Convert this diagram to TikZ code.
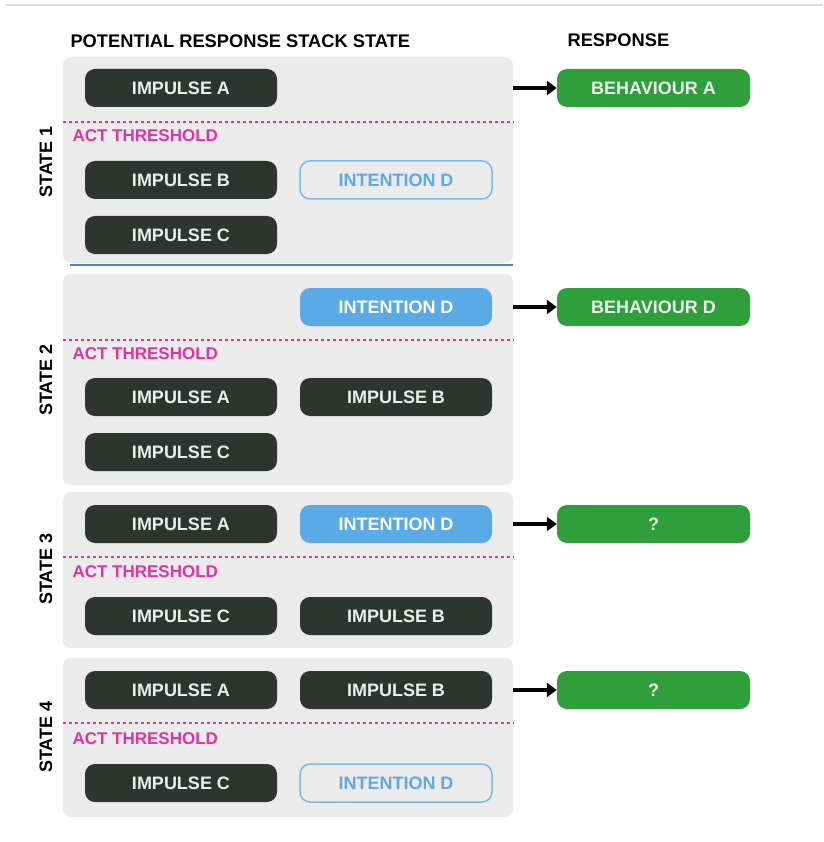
\documentclass[tikz,border=0pt]{standalone}
\usepackage{fontspec}
\setmainfont{Liberation Sans}
\usepackage{tikz}
\usetikzlibrary{positioning,arrows.meta}
\usepackage{xcolor}

\definecolor{panelgray}{HTML}{EBEBEB}
\definecolor{pilldark}{HTML}{2E3531}
\definecolor{pilltext}{HTML}{EDEDED}
\definecolor{respgreen}{HTML}{2E9F3A}
\definecolor{intentblue}{HTML}{5AAAE6}
\definecolor{outlineblue}{HTML}{7DB9E8}
\definecolor{outlinetext}{HTML}{5FA9E0}
\definecolor{threshpink}{HTML}{E0359C}
\definecolor{toprule}{HTML}{DDDDDD}
\definecolor{splitblue}{HTML}{4A84C6}

\newcommand{\pillfont}{\fontsize{18}{21}\selectfont\bfseries}
\newcommand{\headfont}{\fontsize{18.3}{21}\selectfont\bfseries}
\newcommand{\threshfont}{\fontsize{17}{20}\selectfont\bfseries}

\begin{document}
\begin{tikzpicture}[x=1pt, y=-1pt, >=Stealth,
    panel/.style={rectangle, rounded corners=8pt, fill=panelgray, minimum width=450pt},
    impulse/.style={rectangle, rounded corners=10pt, fill=pilldark, text=pilltext,
        minimum width=192pt, minimum height=38pt, font=\pillfont},
    intent/.style={impulse, fill=intentblue, text=white},
    latent/.style={impulse, fill=panelgray, draw=outlineblue, line width=1.5pt, text=outlinetext},
    behaviour/.style={impulse, fill=respgreen, minimum width=193pt},
    threshold/.style={threshpink, line width=2pt, dash pattern=on 3pt off 3pt},
    threshlabel/.style={anchor=west, text=threshpink, font=\threshfont},
    statelabel/.style={rotate=90, font=\pillfont},
    respond/.style={-{Triangle[length=10pt,width=14pt]}, line width=4pt, black},
]
    \useasboundingbox (0,0) rectangle (823,842);

    % Top rule and headings
    \draw[toprule, line width=2pt] (5,5) -- (823,5);
    \node[anchor=west, font=\headfont] (hstack) at (67,41) {POTENTIAL RESPONSE STACK STATE};
    \node[anchor=west, font=\headfont] (hresp) at (564,40) {RESPONSE};

    % Panels
    \node[panel, minimum height=206pt] (state1) at (288,160) {};
    \node[panel, minimum height=211pt] (state2) at (288,379.5) {};
    \node[panel, minimum height=156pt] (state3) at (288,570) {};
    \node[panel, minimum height=159pt] (state4) at (288,737.5) {};
    \draw[splitblue, line width=1.5pt] (70,265) -- (513,265);

    % State labels
    \node[statelabel] (lab1) at (46,162) {STATE 1};
    \node[statelabel] (lab2) at (46,380) {STATE 2};
    \node[statelabel] (lab3) at (46,569) {STATE 3};
    \node[statelabel] (lab4) at (46,737) {STATE 4};

    % Act thresholds
    \draw[threshold] (63,122) -- (514,122);
    \draw[threshold] (63,340) -- (514,340);
    \draw[threshold] (63,557) -- (514,557);
    \draw[threshold] (63,723) -- (514,723);
    \node[threshlabel] (th1) at (69,136) {ACT THRESHOLD};
    \node[threshlabel] (th2) at (69,354) {ACT THRESHOLD};
    \node[threshlabel] (th3) at (69,572) {ACT THRESHOLD};
    \node[threshlabel] (th4) at (69,739) {ACT THRESHOLD};

    % State 1
    \node[impulse] (s1a) at (181,88) {IMPULSE A};
    \node[impulse] (s1b) at (181,180) {IMPULSE B};
    \node[latent]  (s1d) at (396,180) {INTENTION D};
    \node[impulse] (s1c) at (181,235) {IMPULSE C};

    % State 2
    \node[intent]  (s2d) at (396,307) {INTENTION D};
    \node[impulse] (s2a) at (181,397) {IMPULSE A};
    \node[impulse] (s2b) at (396,397) {IMPULSE B};
    \node[impulse] (s2c) at (181,452) {IMPULSE C};

    % State 3
    \node[impulse] (s3a) at (181,524) {IMPULSE A};
    \node[intent]  (s3d) at (396,524) {INTENTION D};
    \node[impulse] (s3c) at (181,616) {IMPULSE C};
    \node[impulse] (s3b) at (396,616) {IMPULSE B};

    % State 4
    \node[impulse] (s4a) at (181,690) {IMPULSE A};
    \node[impulse] (s4b) at (396,690) {IMPULSE B};
    \node[impulse] (s4c) at (181,783) {IMPULSE C};
    \node[latent]  (s4d) at (396,783) {INTENTION D};

    % Responses
    \node[behaviour] (beh1) at (653.5,88) {BEHAVIOUR A};
    \node[behaviour] (beh2) at (653.5,307) {BEHAVIOUR D};
    \node[behaviour] (beh3) at (653.5,524) {?};
    \node[behaviour] (beh4) at (653.5,690) {?};

    \draw[respond] (state1.east |- beh1) -- (beh1);
    \draw[respond] (state2.east |- beh2) -- (beh2);
    \draw[respond] (state3.east |- beh3) -- (beh3);
    \draw[respond] (state4.east |- beh4) -- (beh4);
\end{tikzpicture}
\end{document}
